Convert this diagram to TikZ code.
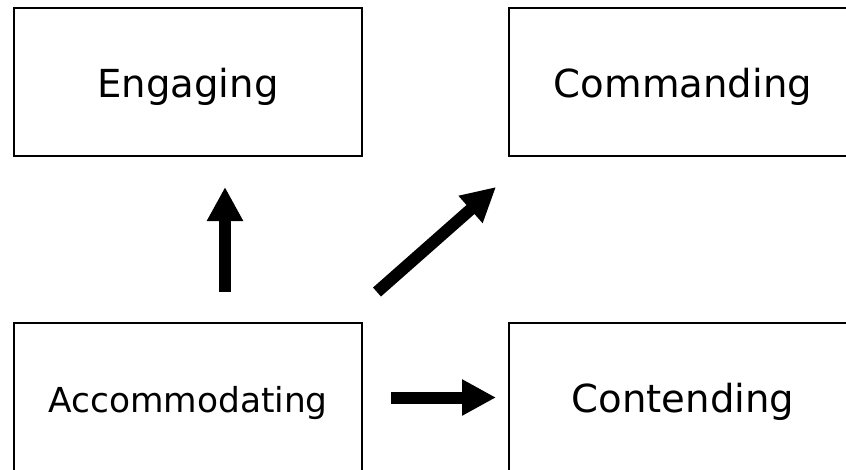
\documentclass[tikz,border=0pt]{standalone}
\usepackage{fontspec}
\setmainfont{DejaVu Sans}
\usetikzlibrary{arrows.meta}
\begin{document}
\begin{tikzpicture}[x=1pt,y=-1pt,
  box/.style={draw=black, line width=2pt, minimum width=348pt, minimum height=148pt,
    inner sep=0pt, text height=30pt, text depth=0pt, font=\fontsize{38.6}{46}\selectfont},
  smalltext/.style={font=\fontsize{34.4}{41}\selectfont},
  blockarrow/.style={draw=black, line width=12pt, line cap=butt,
    -{Triangle[width=34pt,length=34pt]}}]
  \useasboundingbox (0,0) rectangle (846,469);
  \clip (0,0) rectangle (846,469);

  % the four boxes
  \node[box] (engaging) at (188,82) {Engaging};
  \node[box] (commanding) at (683,82) {Commanding};
  \node[box, smalltext] (accommodating) at (188,397) {Accommodating};
  \node[box] (contending) at (683,397) {Contending};

  % arrow ends
  \coordinate (upstart) at (225,292);
  \coordinate (uptip) at (225,187);
  \coordinate (diagstart) at (377,292);
  \coordinate (diagtip) at (496,187);
  \coordinate (rightstart) at (391,397.5);
  \coordinate (righttip) at (496,397.5);

  % block arrows
  \draw[blockarrow] (upstart) -- (uptip);
  \draw[blockarrow] (diagstart) -- (diagtip);
  \draw[blockarrow] (rightstart) -- (righttip);
\end{tikzpicture}
\end{document}
